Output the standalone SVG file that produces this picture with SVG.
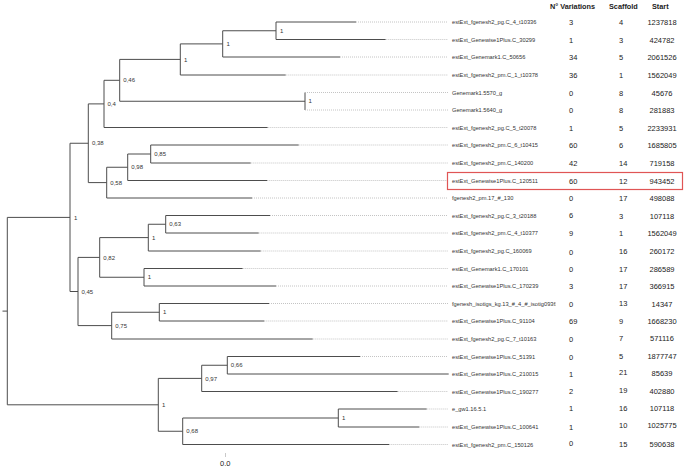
<svg xmlns="http://www.w3.org/2000/svg" width="685" height="469" viewBox="0 0 685 469">
<style>
  .br{stroke:#4d4d4d;stroke-width:1;fill:none}
  .dot{stroke:#b5b5b5;stroke-width:0.8;stroke-dasharray:1,1;fill:none}
  .lab{font-family:"Liberation Sans",Arial,sans-serif;font-size:5.7px;fill:#333}
  .sup{font-family:"Liberation Sans",Arial,sans-serif;font-size:6px;fill:#333}
  .val{font-family:"Liberation Sans",Arial,sans-serif;font-size:7.5px;fill:#222}
  .hdr{font-family:"Liberation Sans",Arial,sans-serif;font-size:7.3px;font-weight:bold;fill:#222}
  .mid{text-anchor:middle}
</style>
<defs>
  <clipPath id="labclip"><rect x="440" y="0" width="115.5" height="469"/></clipPath>
</defs>
<rect width="685" height="469" fill="#fff"/>

<g id="header">
  <text class="hdr" x="550" y="9">N° Variations</text>
  <text class="hdr" x="609" y="9">Scaffold</text>
  <text class="hdr" x="652" y="9">Start</text>
</g>

<g id="connectors">
  <path class="br" d="M2.5,311.1H7.3M7.3,217.4V404.8M7.3,217.4H70M7.3,404.8H158.3"/>
  <path class="br" d="M70,143.25V291.5M70,143.25H88.3M70,291.5H78"/>
  <path class="br" d="M88.3,103.9V182.6M88.3,103.9H104M88.3,182.6H106.7"/>
  <path class="br" d="M104,80.3V127.5M104,80.3H119.7M104,127.5H267.7"/>
  <path class="br" d="M119.7,59.4V101.25M119.7,59.4H180.3M119.7,101.25H305"/>
  <path class="br" d="M180.3,43.9V75M180.3,43.9H222.7M180.3,75H285.7"/>
  <path class="br" d="M222.7,30.75V57M222.7,30.75H276M222.7,57H340"/>
  <path class="br" d="M276,22V39.5M276,22H356M276,39.5H385.7"/>
  <path class="br" d="M305,92.5V110"/>
  <path class="br" d="M106.7,167.25V198M106.7,167.25H127.7M106.7,198H252"/>
  <path class="br" d="M127.7,154V180.5M127.7,154H150.7M127.7,180.5H267.3"/>
  <path class="br" d="M150.7,145V163M150.7,145H298.7M150.7,163H250.7"/>
  <path class="br" d="M78,257.4V325.6M78,257.4H99.7M78,325.6H111.7"/>
  <path class="br" d="M99.7,237.6V277.25M99.7,237.6H148.3M99.7,277.25H144"/>
  <path class="br" d="M148.3,224.25V251M148.3,224.25H165.7M148.3,251H260.7"/>
  <path class="br" d="M165.7,215.5V233M165.7,215.5H270M165.7,233H258.7"/>
  <path class="br" d="M144,268.5V286M144,268.5H242.7M144,286H276"/>
  <path class="br" d="M111.7,312.25V339M111.7,312.25H159.3M111.7,339H312.7"/>
  <path class="br" d="M159.3,303.5V321M159.3,303.5H269M159.3,321H264.3"/>
  <path class="br" d="M158.3,378.4V431.25M158.3,378.4H201.7M158.3,431.25H182.7"/>
  <path class="br" d="M201.7,365.25V391.5M201.7,365.25H227.3M201.7,391.5H397.7"/>
  <path class="br" d="M227.3,356.5V374M227.3,356.5H360M227.3,374H448.7"/>
  <path class="br" d="M182.7,418V444.5M182.7,418H338.3M182.7,444.5H389.3"/>
  <path class="br" d="M338.3,409V427M338.3,409H426.7M338.3,427H419.3"/>
  <path class="dot" d="M356,22H448M385.7,39.5H448M340,57H448M285.7,75H448M305,92.5H448M305,110H448M267.7,127.5H448M298.7,145H448M250.7,163H448M267.3,180.5H448M252,198H448M270,215.5H448M258.7,233H448M260.7,251H448M242.7,268.5H448M276,286H448M269,303.5H448M264.3,321H448M312.7,339H448M360,356.5H448M397.7,391.5H448M426.7,409H448M419.3,427H448M389.3,444.5H448"/>
</g>

<g id="internal-nodes">
  <g id="n-A"><text class="sup" x="74" y="219.5">1</text></g>
  <g id="n-N10"><text class="sup" x="92" y="145.3">0,38</text></g>
  <g id="n-N6"><text class="sup" x="107.5" y="106">0,4</text></g>
  <g id="n-N5"><text class="sup" x="123.3" y="82.4">0,46</text></g>
  <g id="n-N3"><text class="sup" x="184" y="61.5">1</text></g>
  <g id="n-N2"><text class="sup" x="226.5" y="46">1</text></g>
  <g id="n-N1"><text class="sup" x="280" y="32.8">1</text></g>
  <g id="n-N4"><text class="sup" x="308.5" y="103.3">1</text></g>
  <g id="n-N9"><text class="sup" x="110.3" y="184.7">0,58</text></g>
  <g id="n-N8"><text class="sup" x="131.3" y="169.3">0,98</text></g>
  <g id="n-N7"><text class="sup" x="154.3" y="156">0,85</text></g>
  <g id="n-N17"><text class="sup" x="81.5" y="293.6">0,45</text></g>
  <g id="n-N14"><text class="sup" x="103.3" y="259.5">0,82</text></g>
  <g id="n-N12"><text class="sup" x="152" y="239.7">1</text></g>
  <g id="n-N11"><text class="sup" x="169.3" y="226.3">0,63</text></g>
  <g id="n-N13"><text class="sup" x="147.8" y="279.3">1</text></g>
  <g id="n-N16"><text class="sup" x="115.3" y="327.7">0,75</text></g>
  <g id="n-N15"><text class="sup" x="163" y="314.3">1</text></g>
  <g id="n-B"><text class="sup" x="162" y="406.8">1</text></g>
  <g id="n-N19"><text class="sup" x="205.3" y="380.5">0,97</text></g>
  <g id="n-N18"><text class="sup" x="230.8" y="367.3">0,66</text></g>
  <g id="n-N21"><text class="sup" x="186.3" y="433.3">0,68</text></g>
  <g id="n-N20"><text class="sup" x="342" y="420">1</text></g>
</g>

<g id="leaves">
  <g id="leaf0"><text class="lab" x="452" y="24">estExt_fgenesh2_pg.C_4_t10336</text><text class="val" x="569" y="25">3</text><text class="val" x="619" y="25">4</text><text class="val mid" x="662" y="25">1237818</text></g>
  <g id="leaf1"><text class="lab" x="452" y="41.5">estExt_Genewise1Plus.C_30299</text><text class="val" x="569" y="42.5">1</text><text class="val" x="619" y="42.5">3</text><text class="val mid" x="662" y="42.5">424782</text></g>
  <g id="leaf2"><text class="lab" x="452" y="59">estExt_Genemark1.C_50656</text><text class="val" x="569" y="60">34</text><text class="val" x="619" y="60">5</text><text class="val mid" x="662" y="60">2061526</text></g>
  <g id="leaf3"><text class="lab" x="452" y="77">estExt_fgenesh2_pm.C_1_t10378</text><text class="val" x="569" y="78">36</text><text class="val" x="619" y="78">1</text><text class="val mid" x="662" y="78">1562049</text></g>
  <g id="leaf4"><text class="lab" x="452" y="94.5">Genemark1.5570_g</text><text class="val" x="569" y="95.5">0</text><text class="val" x="619" y="95.5">8</text><text class="val mid" x="662" y="95.5">45676</text></g>
  <g id="leaf5"><text class="lab" x="452" y="112">Genemark1.5640_g</text><text class="val" x="569" y="113">0</text><text class="val" x="619" y="113">8</text><text class="val mid" x="662" y="113">281883</text></g>
  <g id="leaf6"><text class="lab" x="452" y="129.5">estExt_fgenesh2_pg.C_5_t20078</text><text class="val" x="569" y="130.5">1</text><text class="val" x="619" y="130.5">5</text><text class="val mid" x="662" y="130.5">2233931</text></g>
  <g id="leaf7"><text class="lab" x="452" y="147">estExt_fgenesh2_pm.C_6_t10415</text><text class="val" x="569" y="148">60</text><text class="val" x="619" y="148">6</text><text class="val mid" x="662" y="148">1685805</text></g>
  <g id="leaf8"><text class="lab" x="452" y="165">estExt_fgenesh2_pm.C_140200</text><text class="val" x="569" y="166">42</text><text class="val" x="619" y="166">14</text><text class="val mid" x="662" y="166">719158</text></g>
  <g id="leaf9"><rect x="447.5" y="172.5" width="235" height="17" fill="none" stroke="#e05555" stroke-width="1.2"/><text class="lab" x="452" y="182.5">estExt_Genewise1Plus.C_120511</text><text class="val" x="569" y="183.5">60</text><text class="val" x="619" y="183.5">12</text><text class="val mid" x="662" y="183.5">943452</text></g>
  <g id="leaf10"><text class="lab" x="452" y="200">fgenesh2_pm.17_#_130</text><text class="val" x="569" y="201">0</text><text class="val" x="619" y="201">17</text><text class="val mid" x="662" y="201">498088</text></g>
  <g id="leaf11"><text class="lab" x="452" y="217.5">estExt_fgenesh2_pg.C_3_t20188</text><text class="val" x="569" y="218">6</text><text class="val" x="619" y="218.5">3</text><text class="val mid" x="662" y="218.5">107118</text></g>
  <g id="leaf12"><text class="lab" x="452" y="235">estExt_fgenesh2_pm.C_4_t10377</text><text class="val" x="569" y="235.5">9</text><text class="val" x="619" y="236">1</text><text class="val mid" x="662" y="236">1562049</text></g>
  <g id="leaf13"><text class="lab" x="452" y="253">estExt_fgenesh2_pg.C_160069</text><text class="val" x="569" y="254.5">0</text><text class="val" x="619" y="253.5">16</text><text class="val mid" x="662" y="254">260172</text></g>
  <g id="leaf14"><text class="lab" x="452" y="270.5">estExt_Genemark1.C_170101</text><text class="val" x="569" y="271.5">0</text><text class="val" x="619" y="271.5">17</text><text class="val mid" x="662" y="271.5">286589</text></g>
  <g id="leaf15"><text class="lab" x="452" y="288">estExt_Genewise1Plus.C_170239</text><text class="val" x="569" y="288.5">3</text><text class="val" x="619" y="289">17</text><text class="val mid" x="662" y="289">366915</text></g>
  <g id="leaf16"><text class="lab" x="452" y="305.5" clip-path="url(#labclip)">fgenesh_isotigs_kg.13_#_4_#_isotig0936</text><text class="val" x="569" y="306.5">0</text><text class="val" x="619" y="306">13</text><text class="val mid" x="662" y="306.5">14347</text></g>
  <g id="leaf17"><text class="lab" x="452" y="323">estExt_Genewise1Plus.C_91104</text><text class="val" x="569" y="324">69</text><text class="val" x="619" y="324">9</text><text class="val mid" x="662" y="324">1668230</text></g>
  <g id="leaf18"><text class="lab" x="452" y="341">estExt_fgenesh2_pg.C_7_t10163</text><text class="val" x="569" y="342">0</text><text class="val" x="619" y="340.5">7</text><text class="val mid" x="662" y="340.5">571116</text></g>
  <g id="leaf19"><text class="lab" x="452" y="358.5">estExt_Genewise1Plus.C_51391</text><text class="val" x="569" y="359.5">0</text><text class="val" x="619" y="358.5">5</text><text class="val mid" x="662" y="358.5">1877747</text></g>
  <g id="leaf20"><text class="lab" x="452" y="376">estExt_Genewise1Plus.C_210015</text><text class="val" x="569" y="376.5">1</text><text class="val" x="619" y="375">21</text><text class="val mid" x="662" y="375.5">85639</text></g>
  <g id="leaf21"><text class="lab" x="452" y="393.5">estExt_Genewise1Plus.C_190277</text><text class="val" x="569" y="393.5">2</text><text class="val" x="619" y="393">19</text><text class="val mid" x="662" y="393.5">402880</text></g>
  <g id="leaf22"><text class="lab" x="452" y="411">e_gw1.16.5.1</text><text class="val" x="569" y="410.5">1</text><text class="val" x="619" y="411">16</text><text class="val mid" x="662" y="411">107118</text></g>
  <g id="leaf23"><text class="lab" x="452" y="429">estExt_Genewise1Plus.C_100641</text><text class="val" x="569" y="430">1</text><text class="val" x="619" y="428">10</text><text class="val mid" x="662" y="428">1025775</text></g>
  <g id="leaf24"><text class="lab" x="452" y="446.5">estExt_fgenesh2_pm.C_150126</text><text class="val" x="569" y="446">0</text><text class="val" x="619" y="447">15</text><text class="val mid" x="662" y="447">590638</text></g>
</g>

<g id="scale">
  <line x1="225.5" y1="453" x2="225.5" y2="457" stroke="#bbb" stroke-width="0.8"/>
  <text class="val" x="220" y="466">0.0</text>
</g>
</svg>
